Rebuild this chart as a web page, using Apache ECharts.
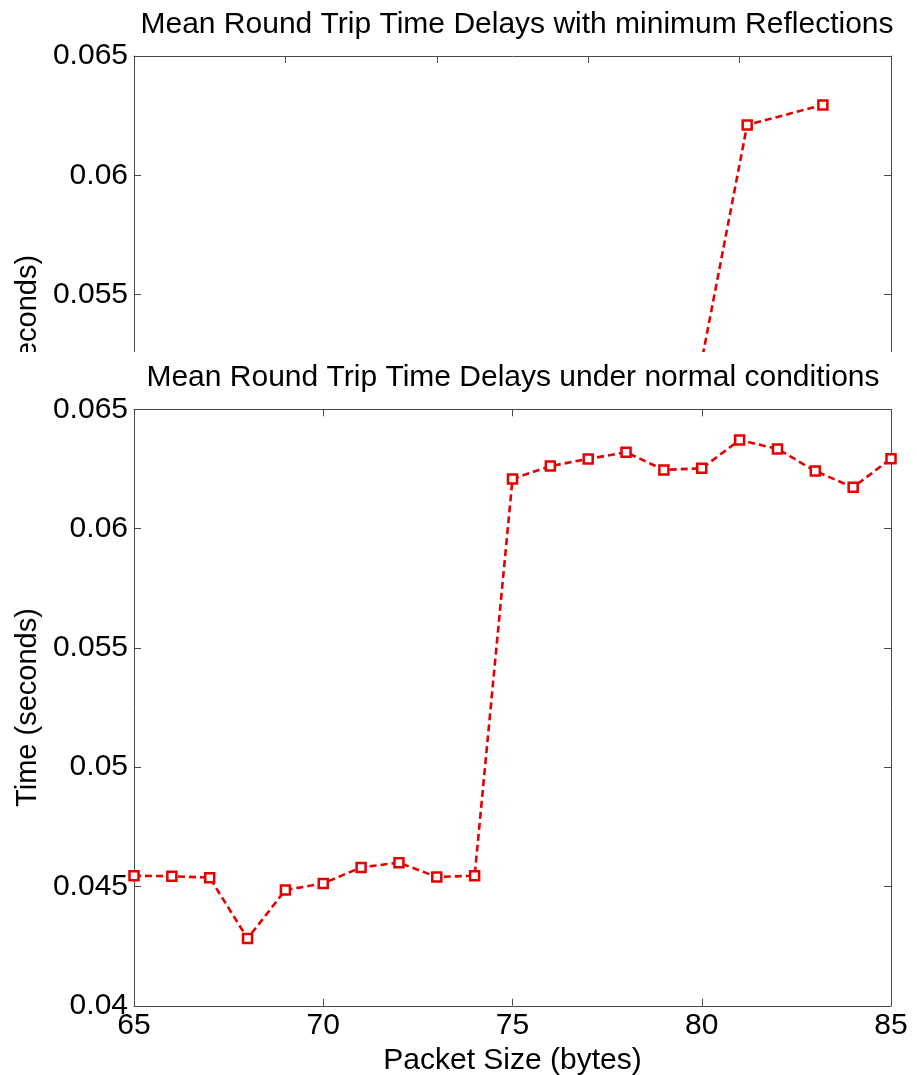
<!DOCTYPE html>
<html>
<head>
<meta charset="utf-8">
<title>Mean Round Trip Time Delays</title>
<script src="https://cdn.jsdelivr.net/npm/echarts@6/dist/echarts.min.js"></script>
<style>
  html, body { margin: 0; padding: 0; background: #fff; }
  #stage { position: relative; width: 917px; height: 1075px; overflow: hidden; background: #fff; }
  #reflections { position: absolute; left: 0; top: 0; width: 917px; height: 720px; }
  #normal { position: absolute; left: 0; top: 352px; width: 917px; height: 723px; background: #fff; }
</style>
</head>
<body>
<div id="stage">
  <div id="reflections"></div>
  <div id="normal"></div>
</div>
<script>
// Packet sizes (bytes) and mean round trip times (s) under normal conditions
const packetSizes = [65, 66, 67, 68, 69, 70, 71, 72, 73, 74, 75, 76, 77, 78, 79, 80, 81, 82, 83, 84, 85];
const normalDelays = [0.04545, 0.04543, 0.04537, 0.04282, 0.04485, 0.04513, 0.04580, 0.04600, 0.04540, 0.04545,
                      0.06208, 0.06262, 0.06292, 0.06320, 0.06246, 0.06253, 0.06371, 0.06334, 0.06241, 0.06173, 0.06293];

// Run with minimum reflections (the figure below covers its lower part)
const reflectionSizes = [74, 75, 76];
const reflectionDelays = [0.04566, 0.06211, 0.06295];

// Axis ticks
const timeTicks = [0.04, 0.045, 0.05, 0.055, 0.06, 0.065];
const sizeTicks = [65, 70, 75, 80, 85];
const reflectionSizeRange = [66.9, 76.9];

const FONT = '"Liberation Sans", Arial, Helvetica, sans-serif';
const RED = '#e50000';
const AXIS = '#4a4a4a';

function fmtTime(v) { return String(+v.toFixed(3)); }

function axisPair(kind, min, max, interval, opts) {
  const base = {
    type: 'value', min: min, max: max, interval: interval,
    splitLine: { show: false },
    axisLine: { show: true, onZero: false, lineStyle: { color: AXIS, width: 1 } },
    axisTick: { show: true, inside: true, length: 7, lineStyle: { color: AXIS, width: 1 } }
  };
  const main = Object.assign({}, base, opts, {
    position: kind === 'x' ? 'bottom' : 'left'
  });
  const mirror = Object.assign({}, base, {
    position: kind === 'x' ? 'top' : 'right',
    axisLabel: { show: false }
  });
  return [main, mirror];
}

function buildOption(cfg) {
  const yAxes = axisPair('y', timeTicks[0], timeTicks[timeTicks.length - 1], 0.005, {
    name: 'Time (seconds)',
    nameLocation: 'middle',
    nameGap: 88,
    nameTextStyle: { fontFamily: FONT, fontSize: 29, color: '#000' },
    axisLabel: { show: true, margin: 6, fontFamily: FONT, fontSize: 30, color: '#000', formatter: fmtTime }
  });
  const xAxes = axisPair('x', cfg.xMin, cfg.xMax, cfg.xInterval, {
    name: 'Packet Size (bytes)',
    nameLocation: 'middle',
    nameGap: 36,
    nameTextStyle: { fontFamily: FONT, fontSize: 30, color: '#000' },
    axisLabel: { show: true, margin: 5, fontFamily: FONT, fontSize: 30, color: '#000' }
  });
  return {
    animation: false,
    backgroundColor: '#fff',
    title: {
      text: cfg.title,
      left: cfg.titleX,
      top: cfg.titleTop,
      textAlign: 'center',
      padding: 0,
      textStyle: { fontFamily: FONT, fontSize: 30, fontWeight: 'normal', color: '#000' }
    },
    grid: {
      left: 134, top: cfg.gridTop, width: 757, height: 596.5,
      containLabel: false, outerBoundsMode: 'none'
    },
    xAxis: xAxes,
    yAxis: yAxes,
    series: [{
      type: 'line',
      xAxisIndex: 0,
      yAxisIndex: 0,
      data: cfg.xs.map((x, i) => [x, cfg.ys[i]]),
      symbol: 'rect',
      symbolSize: 9,
      showAllSymbol: true,
      lineStyle: { color: RED, width: 2.6, type: [7, 4] },
      itemStyle: { color: '#fff', borderColor: RED, borderWidth: 2.5 },
      z: 3
    }]
  };
}

const topChart = echarts.init(document.getElementById('reflections'), null, { renderer: 'canvas' });
topChart.setOption(buildOption({
  title: 'Mean Round Trip Time Delays with minimum Reflections',
  titleX: 517, titleTop: 10, gridTop: 56,
  xMin: reflectionSizeRange[0], xMax: reflectionSizeRange[1], xInterval: 2,
  xs: reflectionSizes, ys: reflectionDelays
}));

const bottomChart = echarts.init(document.getElementById('normal'), null, { renderer: 'canvas' });
bottomChart.setOption(buildOption({
  title: 'Mean Round Trip Time Delays under normal conditions',
  titleX: 513, titleTop: 11, gridTop: 57.3,
  xMin: sizeTicks[0], xMax: sizeTicks[sizeTicks.length - 1], xInterval: sizeTicks[1] - sizeTicks[0],
  xs: packetSizes, ys: normalDelays
}));
</script>
</body>
</html>
